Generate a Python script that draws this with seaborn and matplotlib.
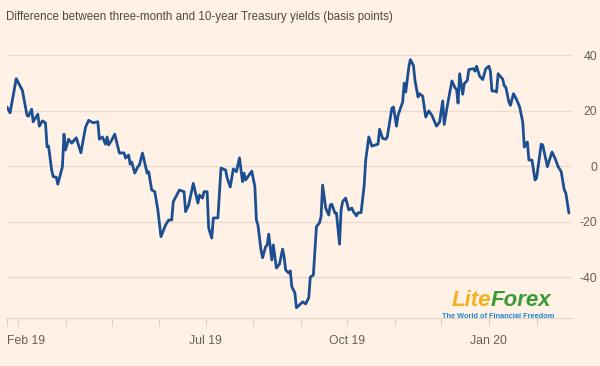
import matplotlib
matplotlib.use("Agg")
import matplotlib.pyplot as plt
import pandas as pd
import seaborn as sns

# Spread between three-month and 10-year Treasury yields, basis points
start_date = "2019-02-22"
day_offsets = [
    0, 2, 6, 10, 13, 14, 16, 17, 20, 21, 23, 25, 26, 27, 29, 30, 32, 33, 36, 37,
    38, 40, 42, 45, 48, 51, 53, 56, 59, 60, 62, 64, 65, 66, 68, 70, 73, 76, 77, 79,
    80, 81, 83, 85, 86, 88, 91, 92, 94, 96, 98, 100, 103, 105, 107, 108, 111, 112, 115, 116,
    118, 121, 124, 125, 127, 128, 130, 131, 133, 134, 137, 139, 142, 143, 145, 147, 149, 151, 153, 154,
    155, 159, 161, 162, 163, 165, 166, 168, 169, 170, 172, 173, 175, 177, 179, 180, 181, 183, 184, 185,
    187, 188, 190, 192, 194, 196, 197, 199, 201, 203, 204, 205, 207, 209, 210, 211, 213, 214, 216, 217,
    218, 220, 222, 224, 225, 227, 228, 230, 232, 233, 235, 237, 239, 241, 242, 244, 246, 247, 250, 251,
    253, 254, 257, 258, 259, 261, 262, 264, 265, 267, 268, 270, 272, 274, 276, 279, 281, 283, 284, 286,
    289, 291, 292, 293, 294, 296, 297, 299, 300, 303, 304, 305, 307, 309, 311, 313, 314, 315, 317, 318,
    319, 322, 323, 324, 326, 327, 329, 331, 333, 335, 336, 338, 339, 341, 343, 344, 347, 348, 351, 354,
    356, 358, 360, 362, 363, 365,
]
spread_bp = [
    21.3, 19.2, 31.5, 27.3, 18.3, 18.0, 20.5, 16.0, 18.7, 14.4, 16.3, 15.6, 7.0, 7.2, -1.4, -3.8, -4.0, -6.5, -0.2, 11.5,
    5.8, 9.7, 8.3, 10.2, 4.8, 14.0, 16.5, 15.6, 16.0, 9.7, 10.5, 7.9, 10.5, 7.6, 9.4, 11.5, 4.7, 4.8, 2.9, 4.0,
    0.7, 1.5, -2.5, -0.2, 0.4, 4.7, -2.5, -2.0, -8.6, -9.2, -15.8, -25.4, -21.2, -19.4, -19.4, -12.8, -9.7, -8.6, -9.2, -16.4,
    -14.0, -6.2, -13.3, -10.4, -11.5, -9.2, -9.2, -22.3, -25.9, -18.7, -18.6, -0.7, -1.4, -4.3, -7.5, -1.0, -2.0, 3.0, -5.6, -2.5,
    -5.0, -1.8, -7.4, -19.4, -21.2, -30.2, -33.0, -29.0, -28.4, -24.5, -33.8, -28.4, -36.7, -35.3, -29.9, -32.6, -37.4, -38.5, -37.7, -43.4,
    -45.7, -51.0, -50.0, -48.9, -49.6, -47.4, -40.0, -39.2, -21.8, -20.4, -18.2, -6.8, -15.1, -17.6, -14.0, -13.7, -16.9, -16.9, -28.1, -15.8,
    -12.8, -11.5, -15.8, -15.1, -16.4, -17.9, -16.8, -16.7, -7.0, 2.2, 10.5, 7.2, 7.6, 7.9, 13.3, 10.0, 9.7, 10.5, 20.9, 21.3,
    14.4, 18.3, 23.1, 29.9, 26.7, 35.7, 38.4, 36.3, 30.9, 24.9, 26.1, 25.2, 17.7, 19.9, 18.3, 14.4, 15.9, 23.5, 15.0, 21.7,
    30.7, 28.2, 27.7, 22.7, 33.3, 25.9, 29.7, 30.9, 34.8, 35.1, 34.2, 36.0, 32.4, 31.2, 35.1, 36.0, 34.2, 27.1, 27.0, 26.7,
    33.3, 31.3, 28.9, 28.5, 23.1, 21.9, 26.1, 24.0, 21.3, 15.9, 6.9, 8.7, 2.2, 2.2, -5.0, -4.3, 7.9, 7.6, -0.2, 5.1,
    2.8, -0.2, -2.0, -8.6, -9.7, -16.9,
]

title = "Difference between three-month and 10-year Treasury yields (basis points)"
y_ticks = [-40, -20, 0, 20, 40]
labelled_months = {"2019-07-01": "Jul 19", "2019-10-01": "Oct 19", "2020-01-01": "Jan 20"}

bg = "#fff1e5"
grid_col = "#e8dcd2"
text_col = "#66605c"
line_col = "#1c4f91"

sns.set_style("white", {"axes.facecolor": bg, "figure.facecolor": bg})
plt.rcParams["font.family"] = ["Liberation Sans", "DejaVu Sans"]
plt.rcParams["axes.unicode_minus"] = False

data = pd.DataFrame({
    "date": pd.Timestamp(start_date) + pd.to_timedelta(day_offsets, unit="D"),
    "spread": spread_bp,
})

fig = plt.figure(figsize=(6, 3.66), dpi=100)
ax = fig.add_axes([7 / 600, 48 / 366, 565 / 600, 274 / 366])

sns.lineplot(data=data, x="date", y="spread", ax=ax, color=line_col, linewidth=2.0)

ax.set_ylim(-54.7, 44)
ax.set_xlim(pd.Timestamp(start_date), pd.Timestamp("2020-02-24"))

# y axis on the right, gridlines only
ax.yaxis.tick_right()
ax.set_yticks(y_ticks)
ax.set_yticklabels([str(v) for v in y_ticks])
ax.tick_params(axis="y", length=0, pad=18, labelsize=8.8, labelcolor=text_col)
for lbl in ax.get_yticklabels():
    lbl.set_horizontalalignment("right")
ax.grid(axis="y", color=grid_col, linewidth=1)

# x axis: start tick plus month starts
month_ticks = list(pd.date_range("2019-03-01", "2020-02-01", freq="MS"))
xticks = [pd.Timestamp(start_date)] + month_ticks
xlabels = ["Feb 19"] + [labelled_months.get(d.strftime("%Y-%m-%d"), "") for d in month_ticks]
ax.set_xticks(xticks)
ax.set_xticklabels(xlabels)
ax.tick_params(axis="x", bottom=True, length=6, width=0.8, color="#dccfc4", pad=6,
               labelsize=8.8, labelcolor=text_col)
ax.get_xticklabels()[0].set_horizontalalignment("left")

for side in ["top", "right", "left"]:
    ax.spines[side].set_visible(False)
ax.spines["bottom"].set_color("#e0d3c8")
ax.set_xlabel("")
ax.set_ylabel("")

fig.text(6 / 600, 1 - 17 / 366, title, fontsize=8.4, color="#4e4844", va="center", ha="left")

# watermark
fig.text(491 / 600, 1 - 300 / 366, "Lite", fontsize=16, fontweight="bold", style="italic",
         color="#f0b323", va="center", ha="right")
fig.text(491 / 600, 1 - 300 / 366, "Forex", fontsize=16, fontweight="bold", style="italic",
         color="#3a9b35", va="center", ha="left")
fig.text(498 / 600, 1 - 316 / 366, "The World of Financial Freedom", fontsize=5.3, fontweight="bold",
         color="#2385cf", va="center", ha="center")

fig.savefig("out.png", dpi=100, facecolor=bg)
